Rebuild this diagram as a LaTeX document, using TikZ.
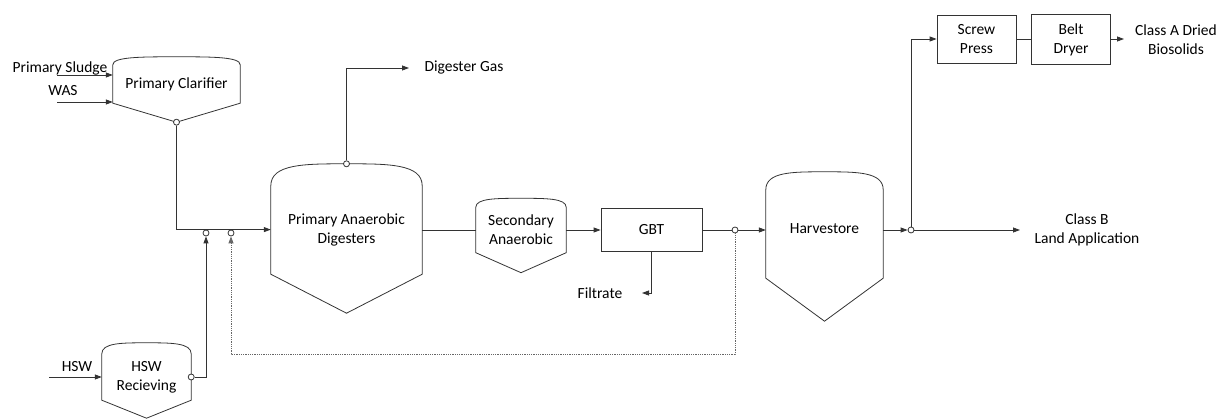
\documentclass[tikz,border=0pt]{standalone}
\usepackage{fontspec}
\setmainfont{Carlito}
\usetikzlibrary{arrows.meta,positioning,calc}

\tikzset{
  pipe/.style={draw=black!80, line width=0.8pt},
  flow/.style={pipe, -{Triangle[length=7pt,width=5pt]}},
  recycle/.style={flow, draw=black!60, densely dotted},
  tank/.style={inner sep=0pt, align=center},
  unit/.style={pipe, rectangle, inner sep=0pt, align=center},
  txt/.style={inner sep=1pt, align=center},
  port/.style={pipe, circle, fill=white, inner sep=0pt, minimum size=6pt}
}

% tank outline: node, height of the dome, depth of the cone
\newcommand{\tankpath}[3]{%
  \draw[pipe] (#1.south west) -- (#1.north west)
    .. controls ([yshift=#2]#1.north west) and ($(#1.north)!0.55!(#1.north west)+(0pt,#2)$) .. ([yshift=#2]#1.north)
    .. controls ($(#1.north)!0.55!(#1.north east)+(0pt,#2)$) and ([yshift=#2]#1.north east) .. (#1.north east)
    -- (#1.south east) -- ([yshift=-#3]#1.south) -- cycle;}

\begin{document}
\begin{tikzpicture}[x=1pt,y=-1pt,font=\fontsize{15.5}{19}\selectfont]
\useasboundingbox (0,0) rectangle (1222,419);

% tanks and units
\node[tank, minimum width=127pt, minimum height=38pt] (clar) at (176.5,84) {Primary Clarifier};
\tankpath{clar}{8pt}{19pt}
\node[tank, minimum width=89pt, minimum height=46pt] (hsw) at (146.5,377) {HSW\\Recieving};
\tankpath{hsw}{11pt}{18pt}
\node[tank, minimum width=151pt, minimum height=88pt] (pad) at (346.5,230) {Primary Anaerobic\\Digesters};
\tankpath{pad}{22pt}{39pt}
\node[tank, minimum width=90pt, minimum height=45pt] (sad) at (521,230) {Secondary\\Anaerobic};
\tankpath{sad}{9pt}{20pt}
\node[unit, minimum width=101pt, minimum height=43pt] (gbt) at (651.5,230) {GBT};
\node[tank, minimum width=117pt, minimum height=88pt] (harv) at (824.5,234) {};
\tankpath{harv}{18pt}{43pt}
\node[txt] (harv-txt) at (824.5,229) {Harvestore};
\node[unit, minimum width=79pt, minimum height=48pt] (press) at (976.5,39) {Screw\\Press};
\node[unit, minimum width=79pt, minimum height=50pt] (dryer) at (1071,39.5) {Belt\\Dryer};

% junctions
\node[port] (clar-out) at ([yshift=-19pt]clar.south) {};
\node[port] (hsw-out) at (hsw.east) {};
\node[port] (pad-gas) at ([yshift=22pt]pad.north) {};
\node[port] (j1) at (206,233) {};
\node[port] (j2) at (231,233) {};
\node[port] (gbt-j) at (735,230) {};
\node[port] (harv-j) at (911,230) {};

% stream labels
\node[txt] (ps-txt) at (60,68) {Primary Sludge};
\node[txt] (was-txt) at (63,91) {WAS};
\node[txt] (hsw-txt) at (77,367) {HSW};
\node[txt] (gas-txt) at (464,68) {Digester Gas};
\node[txt] (filt-txt) at (600,293) {Filtrate};
\node[txt] (clb-txt) at (1087,230) {Class B\\Land Application};
\node[txt] (cla-txt) at (1176,40) {Class A Dried\\Biosolids};

\coordinate (ps-in) at (57,75);
\coordinate (was-in) at (57,102);
\coordinate (hsw-in) at (49,377);
\coordinate (gas-end) at (409,68);
\coordinate (filt-end) at (642,293);
\coordinate (clb-end) at (1020,230);
\coordinate (cla-end) at (1124,39);
\coordinate (loop) at (231,354);

% streams
\draw[flow] (ps-in) -- (ps-in -| clar.west);
\draw[flow] (was-in) -- (was-in -| clar.west);
\draw[flow] (hsw-in) -- (hsw.west);
\draw[flow] (clar-out) -- (clar-out |- j1.north) -- (j1.north -| pad.west);
\draw[flow] (hsw-out) -| (j1.south);
\draw[flow] (pad-gas) |- (gas-end);
\draw[pipe] (pad.east) -- (sad.west);
\draw[flow] (sad.east) -- (gbt.west);
\draw[flow] (gbt.south) |- (filt-end);
\draw[pipe] (gbt.east) -- (gbt-j.west);
\draw[flow] (gbt-j.east) -- (gbt-j -| harv.west);
\draw[recycle] (gbt-j.south) |- (loop) -- (j2.south);
\draw[flow] (harv.east |- harv-j) -- (harv-j.west);
\draw[flow] (harv-j.east) -- (clb-end);
\draw[flow] (harv-j.north) |- (press.west);
\draw[pipe] (press.east) -- (press.east -| dryer.west);
\draw[flow] (dryer.east |- cla-end) -- (cla-end);
\end{tikzpicture}
\end{document}
